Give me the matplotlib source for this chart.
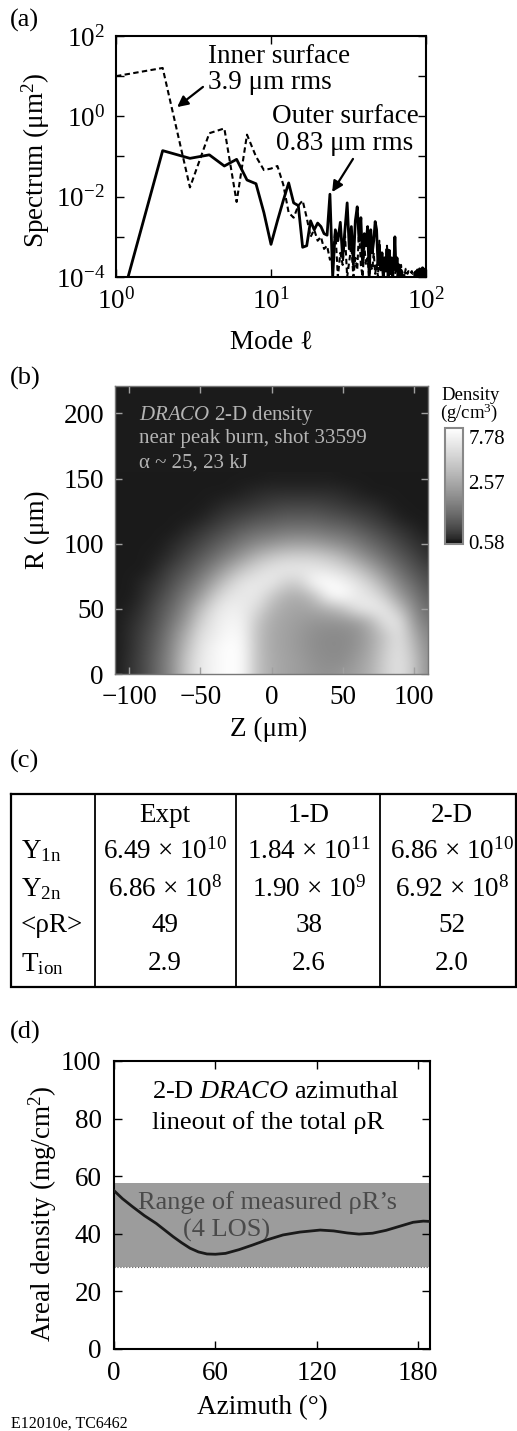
import numpy as np
import matplotlib
matplotlib.use("Agg")
import matplotlib.pyplot as plt
from matplotlib import ticker
from matplotlib.cm import ScalarMappable
from matplotlib.colors import LogNorm, LinearSegmentedColormap

plt.rcParams['font.family'] = ['Liberation Serif', 'DejaVu Serif']
plt.rcParams['mathtext.fontset'] = 'custom'
plt.rcParams['mathtext.rm'] = 'Liberation Serif'
plt.rcParams['mathtext.it'] = 'Liberation Serif:italic'
plt.rcParams['mathtext.bf'] = 'Liberation Serif:bold'

# ---- (a) surface spectra vs mode number ----
modes = np.arange(1, 101)
outer_spec = [8e-6, 0.14, 0.09, 0.11, 0.058, 0.085, 0.026, 0.021, 4e-3, 6.5e-4,
              2.5e-3, 8e-3, 0.022, 7e-3, 6e-3, 5.5e-4, 6e-4, 2.5e-3, 1.5e-3, 2.2e-3,
              1.8e-3, 1.2e-3, 1.1e-3, 0.0115, 1e-4, 1.5e-3, 8e-4, 2.3e-3, 3e-4, 1.5e-3,
              7e-3, 5e-4, 1.8e-3, 2e-4, 2.5e-3, 5.6e-3, 8e-4, 3e-3, 2e-4, 1.2e-3,
              6e-4, 1.8e-3, 1e-4, 1.5e-3, 4e-4, 8e-4, 2.4e-3, 1.5e-3, 2e-4, 6e-4,
              1.5e-4, 4e-4, 1e-4, 3e-4, 1.5e-4, 5e-4, 1e-4, 4.6e-4, 1.2e-4, 3e-4,
              1e-4, 2e-4, 1e-3, 1.5e-4, 3e-4, 1e-4, 2e-4, 1e-4, 1.5e-4, 1e-4,
              6e-5, 1.1e-4, 5e-5, 8e-5, 5e-5, 4e-5, 6e-5, 5e-5, 4e-5, 5e-5,
              4e-5, 6e-5, 5e-5, 4e-5, 1.3e-4, 5e-5, 4e-5, 1.5e-4, 6e-5, 5e-5,
              1.6e-4, 5e-5, 1.4e-4, 6e-5, 1.7e-4, 5e-5, 1.5e-4, 8e-5, 1.6e-4, 1.2e-4]
inner_spec = [10.0, 16.0, 0.017, 0.38, 0.5, 0.0074, 0.35, 0.1, 0.046, 0.05,
              0.058, 0.02, 4e-3, 3e-3, 6e-3, 8e-3, 3e-3, 1e-3, 1.5e-3, 8e-4,
              1e-3, 5e-4, 6e-4, 2.7e-4, 3e-4, 1.5e-3, 1e-4, 4e-4, 2e-4, 1.2e-3,
              1e-4, 2.5e-4, 6e-4, 1e-4, 3e-4, 1.5e-4, 1.5e-3, 2e-4, 1e-4, 6e-4,
              2e-4, 3e-4, 1e-4, 2e-4, 1.5e-4, 4e-4, 1.2e-4, 2e-4, 1e-4, 8e-4,
              1.5e-4, 2.5e-4, 1e-4, 3e-4, 1.2e-4, 6e-4, 1.5e-4, 2e-4, 1.2e-4, 1.5e-4,
              1.3e-4, 2.5e-4, 1.2e-4, 1.4e-4, 3e-4, 1.2e-4, 1.5e-4, 1.3e-4, 2e-4, 1.2e-4,
              1.4e-4, 1.3e-4, 1.2e-4, 1.6e-4, 1.3e-4, 1.2e-4, 1.4e-4, 1.3e-4, 1.2e-4, 1.3e-4,
              1.4e-4, 1.2e-4, 1.3e-4, 1.2e-4, 1.3e-4, 1.4e-4, 1.2e-4, 1.3e-4, 1.2e-4, 1.3e-4,
              1.2e-4, 1.4e-4, 1.3e-4, 1.2e-4, 1.3e-4, 1.5e-4, 1.3e-4, 1.4e-4, 1.5e-4, 1.6e-4]

# ---- (b) DRACO density map (g/cm3), rows R = 0..150 um, cols Z = -110..110 um ----
z_grid = np.arange(-110, 111, 10)
r_grid = np.arange(0, 151, 10)
density = [
    [0.59, 0.67, 0.82, 1.15, 1.81, 3.94, 6.77, 8.35, 9.70, 8.87, 3.71, 2.67, 2.37, 2.17, 1.98, 1.87, 2.04, 2.30, 2.92, 4.59, 6.19, 3.94, 1.81],
    [0.59, 0.67, 0.82, 1.15, 1.81, 3.94, 6.77, 8.35, 9.70, 8.87, 3.71, 2.67, 2.37, 2.17, 1.87, 1.76, 1.76, 2.17, 2.75, 4.59, 6.19, 3.94, 1.81],
    [0.59, 0.65, 0.80, 1.08, 1.70, 3.39, 6.38, 8.35, 9.70, 8.87, 3.71, 2.59, 2.30, 2.04, 1.81, 1.70, 1.70, 1.92, 2.59, 4.19, 6.19, 3.39, 1.70],
    [0.59, 0.65, 0.78, 1.02, 1.55, 2.83, 5.66, 7.19, 9.14, 8.35, 3.71, 2.59, 2.30, 2.04, 1.81, 1.70, 1.70, 1.87, 2.52, 3.94, 6.19, 2.83, 1.55],
    [0.59, 0.63, 0.73, 0.93, 1.34, 2.17, 4.59, 6.77, 8.35, 7.86, 3.94, 2.67, 2.37, 2.17, 1.98, 1.92, 1.98, 2.17, 3.10, 6.19, 6.38, 2.17, 1.34],
    [0.59, 0.61, 0.69, 0.88, 1.15, 1.76, 3.39, 6.01, 7.63, 7.19, 5.33, 3.10, 2.52, 2.37, 2.52, 2.92, 3.71, 6.19, 7.19, 6.77, 3.71, 1.76, 1.15],
    [0.59, 0.59, 0.65, 0.78, 1.02, 1.42, 2.17, 4.19, 6.38, 6.77, 6.77, 4.19, 2.92, 2.75, 3.71, 8.35, 9.70, 7.19, 6.38, 4.19, 2.17, 1.42, 1.02],
    [0.59, 0.59, 0.63, 0.71, 0.88, 1.15, 1.60, 2.59, 4.45, 6.38, 6.77, 6.77, 4.59, 4.59, 8.87, 9.70, 8.35, 6.38, 4.45, 2.59, 1.60, 1.15, 0.88],
    [0.59, 0.59, 0.59, 0.65, 0.78, 0.93, 1.22, 1.70, 2.59, 3.94, 5.33, 6.38, 6.77, 6.77, 6.77, 6.38, 5.33, 3.94, 2.59, 1.70, 1.22, 0.93, 0.78],
    [0.59, 0.59, 0.59, 0.61, 0.67, 0.80, 0.96, 1.22, 1.60, 2.17, 3.10, 3.94, 4.59, 4.73, 4.59, 3.94, 3.10, 2.17, 1.60, 1.22, 0.96, 0.80, 0.67],
    [0.59, 0.59, 0.59, 0.59, 0.63, 0.69, 0.80, 0.96, 1.15, 1.42, 1.70, 1.98, 2.24, 2.30, 2.24, 1.98, 1.70, 1.42, 1.15, 0.96, 0.80, 0.69, 0.63],
    [0.59, 0.59, 0.59, 0.59, 0.59, 0.63, 0.69, 0.78, 0.90, 1.05, 1.19, 1.26, 1.38, 1.38, 1.38, 1.26, 1.19, 1.05, 0.90, 0.78, 0.69, 0.63, 0.59],
    [0.59, 0.59, 0.59, 0.59, 0.59, 0.59, 0.61, 0.67, 0.73, 0.80, 0.88, 0.93, 0.99, 0.99, 0.99, 0.93, 0.88, 0.80, 0.73, 0.67, 0.61, 0.59, 0.59],
    [0.59, 0.59, 0.59, 0.59, 0.59, 0.59, 0.59, 0.61, 0.65, 0.67, 0.71, 0.75, 0.78, 0.78, 0.78, 0.75, 0.71, 0.67, 0.65, 0.61, 0.59, 0.59, 0.59],
    [0.59, 0.59, 0.59, 0.59, 0.59, 0.59, 0.59, 0.59, 0.59, 0.61, 0.63, 0.65, 0.65, 0.65, 0.65, 0.65, 0.63, 0.61, 0.59, 0.59, 0.59, 0.59, 0.59],
    [0.59, 0.59, 0.59, 0.59, 0.59, 0.59, 0.59, 0.59, 0.59, 0.59, 0.59, 0.60, 0.60, 0.60, 0.60, 0.60, 0.59, 0.59, 0.59, 0.59, 0.59, 0.59, 0.59],
]
density_bg = 0.59
cbar_ticks = [0.58, 2.57, 7.78]

# ---- (c) table ----
col_heads = ['Expt', '1-D', '2-D']
row_heads = [r'Y$_{\rm 1n}$', r'Y$_{\rm 2n}$', '<ρR>', r'T$_{\rm ion}$']
table_vals = [
    [r'6.49 × 10$^{10}$', r'1.84 × 10$^{11}$', r'6.86 × 10$^{10}$'],
    [r'6.86 × 10$^{8}$', r'1.90 × 10$^{9}$', r'6.92 × 10$^{8}$'],
    ['49', '38', '52'],
    ['2.9', '2.6', '2.0'],
]

# ---- (d) azimuthal lineout of rhoR ----
azimuth = [0, 5, 11, 18, 25, 30, 35, 40, 45, 50, 55, 60, 66, 74, 82, 90, 100, 110,
           122, 130, 138, 145, 153, 161, 169, 177, 183, 187]
rho_r = [55.0, 52.2, 49.4, 46.3, 43.6, 41.3, 39.0, 36.9, 35.0, 33.7, 33.0, 32.9, 33.2,
         34.5, 36.1, 37.8, 39.6, 40.6, 41.3, 41.0, 40.3, 39.9, 40.2, 41.2, 42.6, 44.0,
         44.4, 44.3]
meas_lo, meas_hi = 28.5, 57.5

W, H = 517.0, 1431.0
fig = plt.figure(figsize=(W / 100, H / 100), dpi=100)


def px_axes(left, top, right, bottom):
    return fig.add_axes([left / W, 1 - bottom / H, (right - left) / W, (bottom - top) / H])


# layout layer in pixel coordinates (labels, table)
lay = fig.add_axes([0, 0, 1, 1])
lay.set_xlim(0, W)
lay.set_ylim(H, 0)
lay.axis('off')

FS = 19.5
for lbl, y in [('(a)', 20), ('(b)', 378), ('(c)', 761), ('(d)', 1032)]:
    lay.text(10, y, lbl, fontsize=19, va='center', ha='left')
lay.text(11, 1424, 'E12010e, TC6462', fontsize=11.5, va='center', ha='left')


def style_axes(ax, lw=1.5):
    for s in ax.spines.values():
        s.set_linewidth(lw)
    ax.tick_params(direction='in', top=True, right=True, length=6, width=1,
                   labelsize=FS, pad=8)


# ---- panel (a) ----
ax_a = px_axes(116, 36, 426, 277)
ax_a.plot(modes, inner_spec, color='k', lw=1.5, dashes=(2.6, 1.6))
ax_a.plot(modes, outer_spec, color='k', lw=2.0)
ax_a.set_xscale('log')
ax_a.set_yscale('log')
ax_a.set_xlim(1, 100)
ax_a.set_ylim(1e-4, 1e2)
ax_a.set_yticks([10.0 ** e for e in range(-4, 3)])
ax_a.set_xticks([1, 10, 100])
ax_a.minorticks_off()
ax_a.yaxis.set_major_formatter(ticker.FuncFormatter(
    lambda v, p: r'$10^{%d}$' % round(np.log10(v)) if round(np.log10(v)) % 2 == 0 else ''))
ax_a.xaxis.set_major_formatter(ticker.FuncFormatter(lambda v, p: r'$10^{%d}$' % round(np.log10(v))))
style_axes(ax_a)
ax_a.set_ylabel('Spectrum (μm$^2$)', fontsize=FS)
ax_a.set_xlabel('Mode ℓ', fontsize=FS)
ax_a.yaxis.set_label_coords(-0.26, 0.485)
ax_a.xaxis.set_label_coords(0.503, -0.27)
ax_a.xaxis.label.set_va('center')
ax_a.yaxis.label.set_va('center')

ax_a.text(0.297, 0.913, 'Inner surface', transform=ax_a.transAxes, fontsize=FS, va='center', ha='left')
ax_a.text(0.297, 0.809, '3.9 μm rms', transform=ax_a.transAxes, fontsize=FS, va='center', ha='left')
ax_a.text(0.739, 0.664, 'Outer surface', transform=ax_a.transAxes, fontsize=FS, va='center', ha='center')
ax_a.text(0.739, 0.552, '0.83 μm rms', transform=ax_a.transAxes, fontsize=FS, va='center', ha='center')
arrow = dict(arrowstyle='-|>', lw=1.6, color='k', mutation_scale=16, shrinkA=0, shrinkB=0)
ax_a.annotate('', xy=(2.48, 1.7), xytext=(3.64, 5.4), arrowprops=arrow)
ax_a.annotate('', xy=(24.8, 0.013), xytext=(33.8, 0.087), arrowprops=arrow)

# ---- panel (b) ----
gray_levels = [(x, str(round(0.05 + 0.95 * x ** 0.7, 3))) for x in np.linspace(0, 1, 21)]
cmap = LinearSegmentedColormap.from_list('dens', gray_levels)
norm = LogNorm(vmin=0.55, vmax=9.8)
ax_b = px_axes(115, 386, 428, 674)
ax_b.set_facecolor(cmap(norm(density_bg)))
ax_b.imshow(np.array(density), origin='lower', cmap=cmap, norm=norm,
            extent=(z_grid[0] - 5, z_grid[-1] + 5, r_grid[0] - 5, r_grid[-1] + 5),
            interpolation='bicubic', interpolation_stage='rgba', aspect='auto')
ax_b.set_xlim(-110, 110)
ax_b.set_ylim(0, 221)
ax_b.set_xticks([-100, -50, 0, 50, 100])
ax_b.set_yticks([0, 50, 100, 150, 200])
ax_b.tick_params(direction='in', top=True, right=True, length=5, width=1,
                 color='#a0a0a0', labelsize=FS, pad=8)
for s in ax_b.spines.values():
    s.set_edgecolor('#777777')
    s.set_linewidth(1)
ax_b.set_xlabel('Z (μm)', fontsize=FS)
ax_b.set_ylabel('R (μm)', fontsize=FS)
ax_b.xaxis.set_label_coords(0.49, -0.194)
ax_b.yaxis.set_label_coords(-0.249, 0.5)
ax_b.xaxis.label.set_va('center')
ax_b.yaxis.label.set_va('center')
txt_col = '#b4b4b4'
ax_b.text(0.077, 0.899, r'$\it{DRACO}$ 2-D density', transform=ax_b.transAxes, color=txt_col,
          fontsize=15, va='center', ha='left')
ax_b.text(0.077, 0.816, 'near peak burn, shot 33599', transform=ax_b.transAxes, color=txt_col,
          fontsize=15, va='center', ha='left')
ax_b.text(0.077, 0.733, 'α ~ 25, 23 kJ', transform=ax_b.transAxes, color=txt_col,
          fontsize=15, va='center', ha='left')

cax = px_axes(445, 428, 463, 544)
cb = fig.colorbar(ScalarMappable(norm=norm, cmap=cmap), cax=cax)
cb.set_ticks(cbar_ticks)
cb.set_ticklabels(['%.2f' % t for t in cbar_ticks])
cax.yaxis.set_minor_locator(ticker.NullLocator())
cax.tick_params(length=0, labelsize=15, pad=4)
cb.outline.set_edgecolor('#888888')
cb.outline.set_linewidth(1.5)
lay.text(471, 395, 'Density', fontsize=13.5, ha='center', va='center')
lay.text(469, 413, '(g/cm$^3$)', fontsize=13.5, ha='center', va='center')

# ---- panel (c) table ----
t_left, t_right, t_top, t_bot = 11, 516, 794, 987
col_lines = [95, 236, 380]
lay.plot([t_left, t_right, t_right, t_left, t_left], [t_top, t_top, t_bot, t_bot, t_top],
         color='k', lw=1.6, solid_joinstyle='miter')
for x in col_lines:
    lay.plot([x, x], [t_top, t_bot], color='k', lw=1.3)
col_centers = [165, 309, 452]
for cx, head in zip(col_centers, col_heads):
    lay.text(cx, 815, head, fontsize=FS, ha='center', va='center')
row_y = [851, 889, 926, 964]
for ry, rh, vals in zip(row_y, row_heads, table_vals):
    lay.text(21, ry, rh, fontsize=FS, ha='left', va='center')
    for cx, v in zip(col_centers, vals):
        lay.text(cx, ry, v, fontsize=FS, ha='center', va='center')

# ---- panel (d) ----
ax_d = px_axes(114, 1061, 430, 1349)
ax_d.axhspan(meas_lo, meas_hi, color='#9c9c9c', lw=0, zorder=1)
ax_d.axhline(meas_lo, color='#555555', lw=0.8, ls=':', zorder=1.5)
ax_d.plot(azimuth, rho_r, color='#1a1a1a', lw=2.0, zorder=3)
ax_d.set_xlim(0, 187)
ax_d.set_ylim(0, 100)
ax_d.set_xticks([0, 60, 120, 180])
ax_d.set_yticks([0, 20, 40, 60, 80, 100])
style_axes(ax_d)
ax_d.tick_params(pad=9)
ax_d.set_xlabel('Azimuth (°)', fontsize=FS)
ax_d.set_ylabel('Areal density (mg/cm$^2$)', fontsize=FS)
ax_d.xaxis.set_label_coords(0.468, -0.205)
ax_d.yaxis.set_label_coords(-0.225, 0.47)
ax_d.xaxis.label.set_va('center')
ax_d.yaxis.label.set_va('center')
ax_d.text(0.12, 0.892, r'2-D $\it{DRACO}$ azimuthal', transform=ax_d.transAxes,
          fontsize=19, va='center', ha='left')
ax_d.text(0.12, 0.788, 'lineout of the total ρR', transform=ax_d.transAxes,
          fontsize=19, va='center', ha='left')
ax_d.text(0.486, 0.51, 'Range of measured ρR’s', transform=ax_d.transAxes, color='#4a4a4a',
          fontsize=19, va='center', ha='center', zorder=2)
ax_d.text(0.357, 0.413, '(4 LOS)', transform=ax_d.transAxes, color='#4a4a4a',
          fontsize=19, va='center', ha='center', zorder=2)

fig.savefig('out.png', dpi=100)
